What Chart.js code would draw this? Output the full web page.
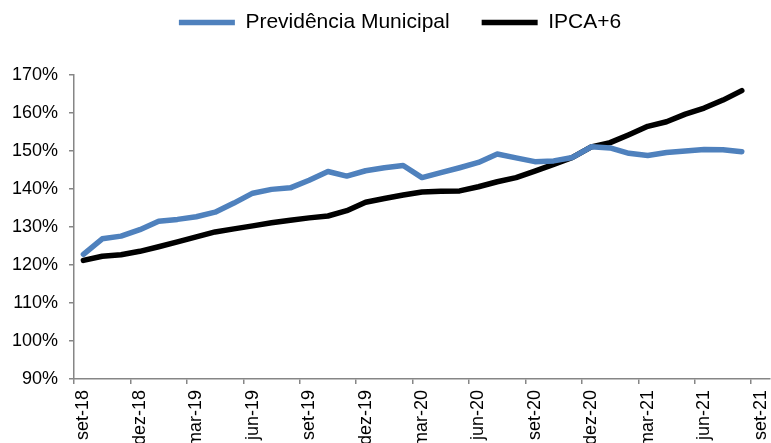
<!DOCTYPE html>
<html>
<head>
<meta charset="utf-8">
<script src="https://cdn.jsdelivr.net/npm/chart.js@4/dist/chart.umd.min.js"></script>
<style>
  html, body { margin: 0; padding: 0; background: #ffffff; }
  #wrap { width: 771px; height: 443px; position: relative; }
</style>
</head>
<body>
<div id="wrap"><canvas id="c" width="771" height="443"></canvas></div>
<script>
// Categories (monthly, set-18 .. set-21)
const months = [
  'set-18','out-18','nov-18','dez-18','jan-19','fev-19','mar-19','abr-19','mai-19','jun-19','jul-19','ago-19',
  'set-19','out-19','nov-19','dez-19','jan-20','fev-20','mar-20','abr-20','mai-20','jun-20','jul-20','ago-20',
  'set-20','out-20','nov-20','dez-20','jan-21','fev-21','mar-21','abr-21','mai-21','jun-21','jul-21','ago-21',
  'set-21'
];

// Series values (% accumulated index)
const previdenciaMunicipal = [
  122.8, 126.9, 127.6, 129.3, 131.5, 132.0, 132.7, 133.9, 136.3, 138.9, 139.9, 140.3,
  142.3, 144.6, 143.4, 144.8, 145.6, 146.2, 143.0, 144.3, 145.6, 147.0, 149.2, 148.2,
  147.2, 147.4, 148.3, 151.1, 150.8, 149.4, 148.8, 149.6, 150.0, 150.4, 150.3, 149.8
];
const ipca6 = [
  121.2, 122.3, 122.7, 123.6, 124.8, 126.1, 127.4, 128.7, 129.5, 130.3, 131.1, 131.8,
  132.4, 132.9, 134.3, 136.5, 137.5, 138.4, 139.2, 139.4, 139.5, 140.6, 141.9, 143.0,
  144.7, 146.5, 148.3, 151.1, 152.2, 154.3, 156.5, 157.7, 159.7, 161.3, 163.4, 165.9
];

// Axis ticks
const yMin = 90, yMax = 170, yStep = 10;
const xLabelEvery = 3;

const AXIS = '#868686';
const FONT = "'Liberation Sans', Arial, Helvetica, sans-serif";

const legendSpacer = {
  id: 'legendSpacer',
  beforeInit(chart) {
    const orig = chart.legend.fit;
    chart.legend.fit = function () {
      orig.bind(chart.legend)();
      this.height = 95;
    };
  },
  afterLayout(chart) {
    chart.legend.left += 15;
    chart.legend.right += 15;
  }
};

new Chart(document.getElementById('c'), {
  type: 'line',
  data: {
    labels: months,
    datasets: [
      {
        label: 'Previdência Municipal',
        data: previdenciaMunicipal,
        borderColor: '#4F81BD',
        backgroundColor: '#4F81BD',
        borderWidth: 5.5,
        pointRadius: 0,
        pointHoverRadius: 0,
        tension: 0,
        fill: false,
        borderJoinStyle: 'round',
        borderCapStyle: 'round'
      },
      {
        label: 'IPCA+6',
        data: ipca6,
        borderColor: '#000000',
        backgroundColor: '#000000',
        borderWidth: 5.5,
        pointRadius: 0,
        pointHoverRadius: 0,
        tension: 0,
        fill: false,
        borderJoinStyle: 'round',
        borderCapStyle: 'round'
      }
    ]
  },
  options: {
    responsive: false,
    animation: false,
    devicePixelRatio: 1,
    layout: { padding: { top: -20, left: 0, right: 1, bottom: 0 } },
    plugins: {
      tooltip: { enabled: false },
      legend: {
        position: 'top',
        align: 'center',
        labels: {
          usePointStyle: true,
          pointStyle: 'line',
          pointStyleWidth: 56,
          padding: 32,
          color: '#000',
          font: { family: FONT, size: 21 }
        }
      }
    },
    scales: {
      x: {
        type: 'category',
        offset: true,
        grid: {
          offset: true,
          drawOnChartArea: false,
          drawTicks: true,
          tickLength: 5,
          lineWidth: 1.5,
          color: (ctx) => (ctx.index % xLabelEvery === 0 ? AXIS : 'rgba(0,0,0,0)')
        },
        border: { display: true, color: AXIS, width: 1.5 },
        ticks: {
          autoSkip: false,
          maxRotation: 90,
          minRotation: 90,
          padding: 6,
          color: '#000',
          font: { family: FONT, size: 18 },
          callback: function (v, i) { return i % xLabelEvery === 0 ? months[i] : ''; }
        },
        afterFit: (scale) => {
          scale.height = 64;
          scale.paddingLeft = 0;
          scale.paddingRight = 0;
        }
      },
      y: {
        type: 'linear',
        min: yMin,
        max: yMax,
        grid: {
          drawOnChartArea: false,
          drawTicks: true,
          tickLength: 5,
          lineWidth: 1.5,
          color: AXIS
        },
        border: { display: true, color: AXIS, width: 1.5 },
        ticks: {
          stepSize: yStep,
          padding: 11,
          color: '#000',
          font: { family: FONT, size: 18 },
          callback: (v) => Math.round(v) + '%'
        },
        afterFit: (scale) => { scale.width = 74; }
      }
    }
  },
  plugins: [legendSpacer]
});
</script>
</body>
</html>
